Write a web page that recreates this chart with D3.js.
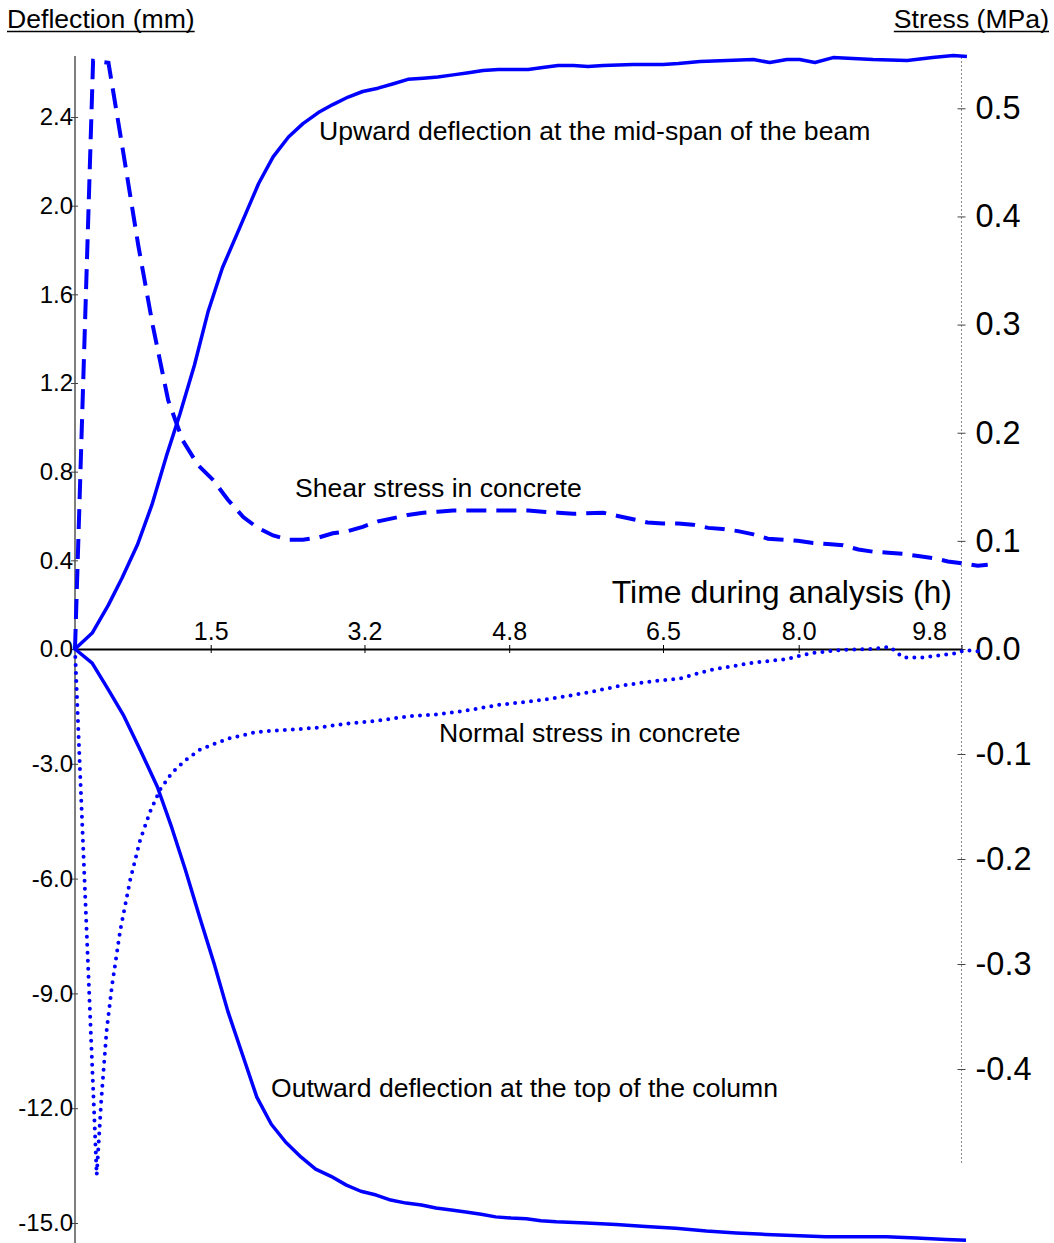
<!DOCTYPE html>
<html>
<head>
<meta charset="utf-8">
<script src="https://cdn.jsdelivr.net/npm/d3@7"></script>
<style>
  html, body { margin: 0; padding: 0; background: #fff; }
  svg { display: block; }
  text { font-family: "Liberation Sans", Arial, Helvetica, sans-serif; fill: #000; }
</style>
</head>
<body>
<svg id="chart" width="1054" height="1243"></svg>
<script>
// ---- Data (time in hours) ----
// Upward deflection at the mid-span of the beam (mm)
const upTime = [0, 0.19, 0.37, 0.52, 0.69, 0.85, 1.01, 1.16, 1.32, 1.47, 1.63, 1.82, 2.03, 2.19, 2.36, 2.52, 2.69, 2.85, 3.02, 3.18, 3.35, 3.52, 3.68, 3.85, 4.01, 4.18, 4.35, 4.51, 4.68, 5.01, 5.17, 5.34, 5.51, 5.67, 5.84, 6.17, 6.50, 6.67, 6.91, 7.50, 7.68, 7.87, 8.01, 8.18, 8.38, 8.82, 9.20, 9.48, 9.71, 9.86];
const upDefl = [0, 0.072, 0.199, 0.32, 0.47, 0.65, 0.87, 1.06, 1.28, 1.52, 1.72, 1.90, 2.10, 2.22, 2.31, 2.37, 2.42, 2.456, 2.49, 2.515, 2.53, 2.55, 2.57, 2.575, 2.58, 2.59, 2.60, 2.61, 2.614, 2.614, 2.623, 2.632, 2.632, 2.628, 2.632, 2.637, 2.637, 2.641, 2.650, 2.659, 2.646, 2.659, 2.659, 2.646, 2.668, 2.659, 2.655, 2.668, 2.677, 2.673];

// Outward deflection at the top of the column (mm)
const outTime = [0, 0.19, 0.37, 0.54, 0.72, 0.91, 1.07, 1.22, 1.38, 1.54, 1.69, 1.85, 2.01, 2.17, 2.33, 2.50, 2.66, 2.83, 3.00, 3.16, 3.33, 3.49, 3.66, 3.83, 3.99, 4.16, 4.32, 4.49, 4.65, 4.82, 4.99, 5.15, 5.32, 5.65, 5.98, 6.31, 6.64, 6.98, 7.31, 7.64, 8.30, 8.97, 9.30, 9.63, 9.85];
const outDefl = [0, -0.37, -1.07, -1.75, -2.63, -3.60, -4.67, -5.77, -7.02, -8.24, -9.47, -10.59, -11.71, -12.42, -12.89, -13.28, -13.59, -13.78, -14.01, -14.17, -14.27, -14.40, -14.48, -14.53, -14.61, -14.66, -14.71, -14.77, -14.84, -14.87, -14.89, -14.94, -14.97, -15.00, -15.04, -15.09, -15.14, -15.21, -15.26, -15.30, -15.36, -15.36, -15.39, -15.43, -15.45];

// Shear stress in concrete (MPa)
const shearTime = [0, 0.20, 0.37, 0.53, 0.70, 0.86, 1.03, 1.19, 1.36, 1.53, 1.69, 1.86, 2.02, 2.19, 2.36, 2.52, 2.69, 2.85, 3.02, 3.18, 3.35, 3.52, 3.68, 3.85, 4.01, 4.18, 5.01, 5.17, 5.34, 5.51, 5.84, 6.00, 6.17, 6.33, 6.50, 6.67, 6.83, 7.00, 7.16, 7.33, 7.50, 7.66, 7.83, 7.99, 8.16, 8.32, 8.49, 8.66, 8.82, 8.99, 9.15, 9.32, 9.49, 9.65, 9.82, 9.98, 10.09];
const shearStress = [0, 0.544, 0.542, 0.461, 0.373, 0.299, 0.230, 0.193, 0.170, 0.156, 0.138, 0.122, 0.112, 0.105, 0.101, 0.101, 0.103, 0.107, 0.109, 0.113, 0.118, 0.121, 0.124, 0.126, 0.127, 0.128, 0.128, 0.127, 0.126, 0.125, 0.126, 0.123, 0.120, 0.117, 0.116, 0.116, 0.115, 0.112, 0.111, 0.109, 0.106, 0.102, 0.101, 0.100, 0.098, 0.097, 0.096, 0.092, 0.090, 0.089, 0.088, 0.086, 0.084, 0.081, 0.079, 0.077, 0.078];

// Normal stress in concrete (MPa)
const normalTime = [0, 0.24, 0.29, 0.35, 0.41, 0.50, 0.61, 0.72, 0.83, 0.94, 1.07, 1.22, 1.38, 1.55, 1.71, 2.01, 2.34, 2.68, 3.01, 3.37, 3.70, 4.04, 4.37, 4.70, 5.03, 5.36, 5.69, 6.03, 6.36, 6.69, 7.02, 7.50, 7.87, 8.13, 8.46, 8.82, 9.01, 9.15, 9.37, 9.56, 9.75, 9.84, 10.06];
const normalStress = [0, -0.501, -0.430, -0.363, -0.320, -0.268, -0.220, -0.182, -0.155, -0.134, -0.118, -0.106, -0.096, -0.090, -0.085, -0.079, -0.077, -0.075, -0.071, -0.068, -0.064, -0.062, -0.058, -0.053, -0.050, -0.046, -0.041, -0.035, -0.031, -0.028, -0.020, -0.013, -0.0095, -0.004, -0.001, 0, 0.002, -0.008, -0.008, -0.006, -0.004, -0.001, -0.003];

// Axis ticks
const timeTicks = [1.5, 3.2, 4.8, 6.5, 8.0, 9.8];
const deflTicks = [-15, -12, -9, -6, -3, 0, 0.4, 0.8, 1.2, 1.6, 2.0, 2.4];
const stressTicks = [-0.4, -0.3, -0.2, -0.1, 0, 0.1, 0.2, 0.3, 0.4, 0.5];

// ---- Scales ----
const svg = d3.select('#chart');
const x = d3.scaleLinear().domain([0, 9.8]).range([75, 961.5]);
// deflection axis uses a different scale above and below zero
const yDefl = d3.scaleLinear().domain([-15, 0, 2.4]).range([1223, 649, 117]);
const yStress = d3.scaleLinear().domain([-0.4, 0, 0.5]).range([1069, 649, 108.3]);

const fmt = d => d.toFixed(1);

// ---- Left axis (deflection) ----
svg.append('line')
  .attr('x1', 75).attr('x2', 75)
  .attr('y1', yDefl(2.675)).attr('y2', 1243)
  .attr('stroke', '#555').attr('stroke-width', 1.5);

const leftAxis = svg.append('g')
  .attr('transform', 'translate(75,0)')
  .call(d3.axisLeft(yDefl).tickValues(deflTicks).tickFormat(fmt)
    .tickSizeInner(4).tickSizeOuter(0).tickPadding(-2));
leftAxis.select('.domain').remove();
leftAxis.selectAll('.tick line').attr('stroke', '#444').attr('x2', 3).attr('x1', -4);
leftAxis.selectAll('.tick text')
  .style('font-size', '24px').style('font-family', null).attr('fill', '#000');

// ---- Right axis (stress) ----
svg.append('line')
  .attr('x1', 961.5).attr('x2', 961.5)
  .attr('y1', 57).attr('y2', 1165)
  .attr('stroke', '#888').attr('stroke-width', 1)
  .attr('stroke-dasharray', '2,2');

const rightAxis = svg.append('g')
  .attr('transform', 'translate(961.5,0)')
  .call(d3.axisRight(yStress).tickValues(stressTicks).tickFormat(fmt)
    .tickSizeInner(4).tickSizeOuter(0).tickPadding(10));
rightAxis.select('.domain').remove();
rightAxis.selectAll('.tick line').attr('stroke', '#444').attr('x1', -4);
rightAxis.selectAll('.tick text')
  .style('font-size', '32.5px').style('font-family', null).attr('fill', '#000');

// ---- Time axis ----
const timeAxis = svg.append('g')
  .attr('transform', `translate(0,${yDefl(0)})`)
  .call(d3.axisTop(x).tickValues(timeTicks).tickFormat(fmt)
    .tickSizeInner(4).tickSizeOuter(0).tickPadding(5));
timeAxis.select('.domain').attr('stroke', '#000').attr('stroke-width', 2);
timeAxis.selectAll('.tick line').attr('stroke', '#000').attr('y2', 4).attr('y1', -4);
timeAxis.selectAll('.tick text')
  .style('font-size', '25px').style('font-family', null).attr('fill', '#000');
// last label kept clear of the stress axis
timeAxis.selectAll('.tick text').filter((d, i, n) => i === n.length - 1)
  .attr('text-anchor', 'end').attr('x', -15);

svg.append('text')
  .attr('x', 952).attr('y', 603)
  .attr('text-anchor', 'end')
  .style('font-size', '32px')
  .text('Time during analysis (h)');

// ---- Axis headers ----
const headers = [
  { text: 'Deflection (mm)', x: 7, anchor: 'start' },
  { text: 'Stress (MPa)', x: 1049, anchor: 'end' }
];
headers.forEach(h => {
  const t = svg.append('text')
    .attr('x', h.x).attr('y', 28)
    .attr('text-anchor', h.anchor)
    .style('font-size', '26.6px')
    .text(h.text);
  const bb = t.node().getBBox();
  svg.append('line')
    .attr('x1', bb.x).attr('x2', bb.x + bb.width)
    .attr('y1', 31.5).attr('y2', 31.5)
    .attr('stroke', '#000').attr('stroke-width', 1.6);
});

// ---- Curves ----
const blue = '#0000ff';
const deflLine = d3.line().x(d => x(d[0])).y(d => yDefl(d[1]));
const stressLine = d3.line().x(d => x(d[0])).y(d => yStress(d[1]));

svg.append('path')
  .datum(d3.zip(upTime, upDefl))
  .attr('d', deflLine)
  .attr('fill', 'none').attr('stroke', blue).attr('stroke-width', 3.5)
  .attr('stroke-linejoin', 'round');

svg.append('path')
  .datum(d3.zip(outTime, outDefl))
  .attr('d', deflLine)
  .attr('fill', 'none').attr('stroke', blue).attr('stroke-width', 3.5)
  .attr('stroke-linejoin', 'round');

svg.append('path')
  .datum(d3.zip(shearTime, shearStress))
  .attr('d', stressLine)
  .attr('fill', 'none').attr('stroke', blue).attr('stroke-width', 4)
  .attr('stroke-dasharray', '20,10');

svg.append('path')
  .datum(d3.zip(normalTime, normalStress))
  .attr('d', stressLine)
  .attr('fill', 'none').attr('stroke', blue).attr('stroke-width', 4)
  .attr('stroke-linecap', 'round')
  .attr('stroke-dasharray', '0,8');

// ---- Curve labels ----
const curveLabels = [
  { text: 'Upward deflection at the mid-span of the beam', x: 319, y: 140 },
  { text: 'Shear stress in concrete', x: 295, y: 497 },
  { text: 'Normal stress in concrete', x: 439, y: 742 },
  { text: 'Outward deflection at the top of the column', x: 271, y: 1097 }
];
svg.selectAll('text.curve-label')
  .data(curveLabels)
  .join('text')
  .attr('class', 'curve-label')
  .attr('x', d => d.x).attr('y', d => d.y)
  .style('font-size', '26.6px')
  .text(d => d.text);
</script>
</body>
</html>
